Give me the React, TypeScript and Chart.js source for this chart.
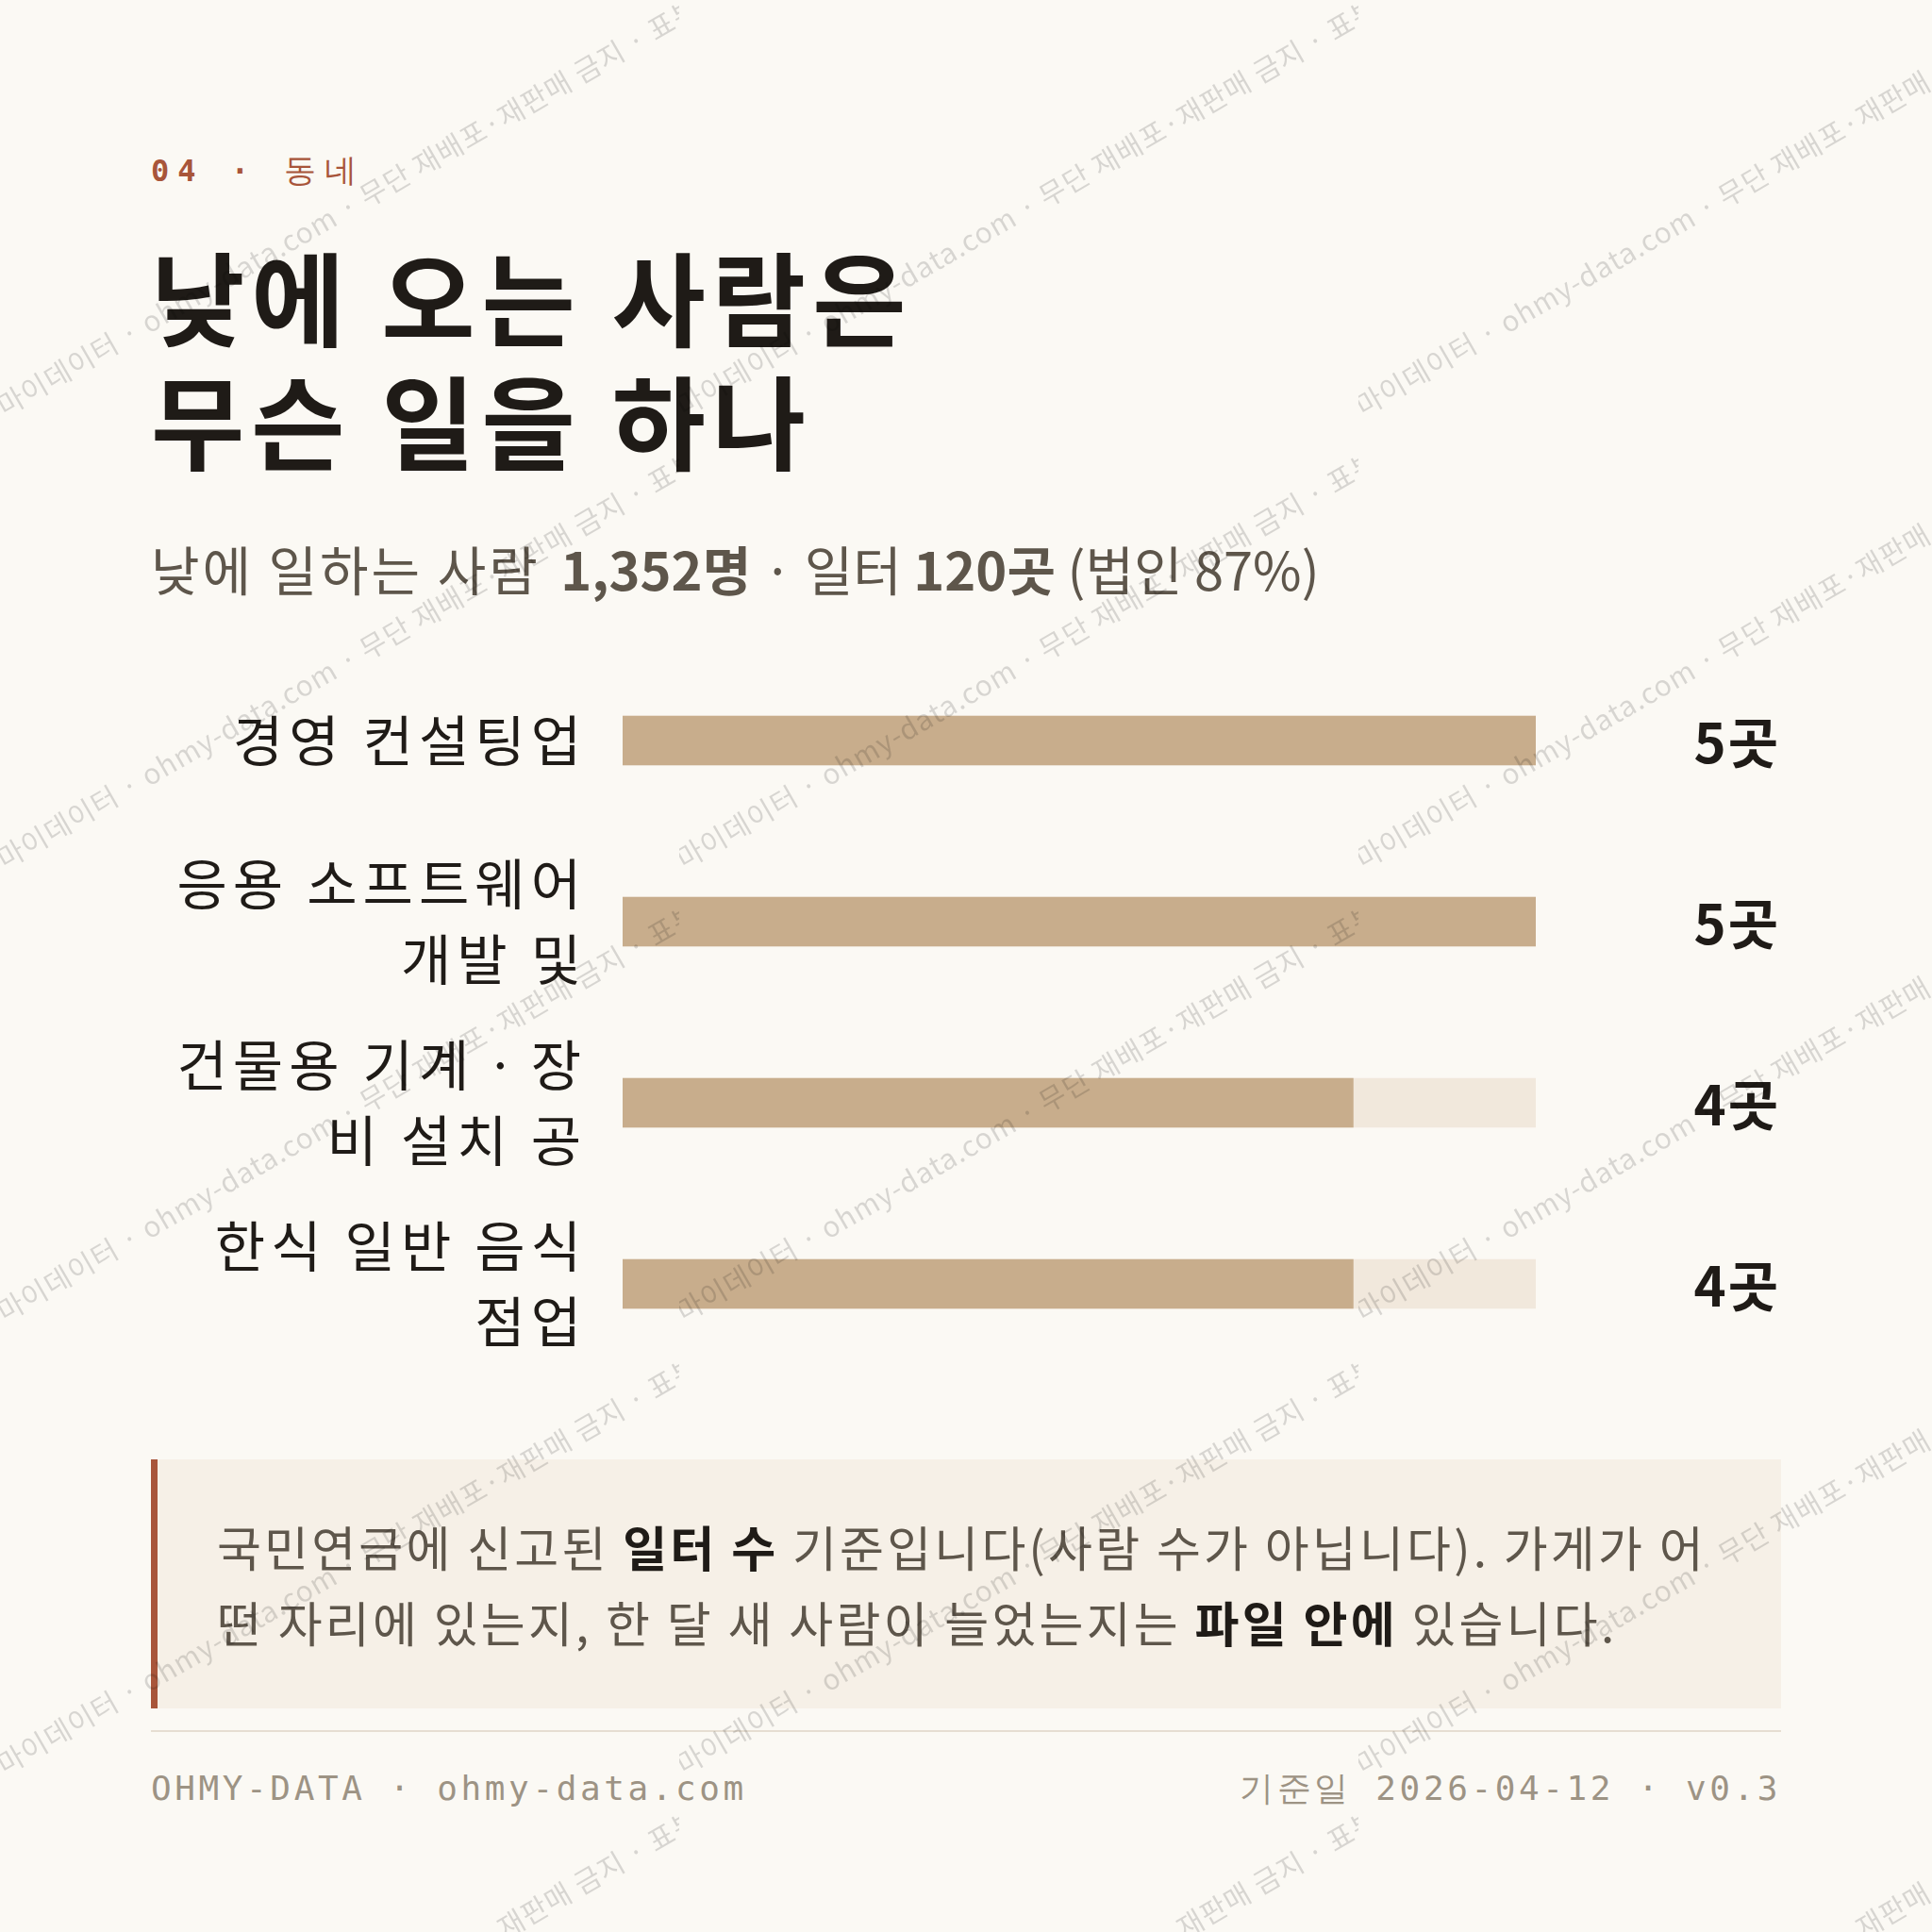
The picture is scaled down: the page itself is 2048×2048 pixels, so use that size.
import React, { useEffect, useRef } from "react";
import { Chart, registerables } from "chart.js";

Chart.register(...registerables);

// ---- data ----
const categoryLines: string[][] = [
  ["경영 컨설팅업"],
  ["응용 소프트웨어", "개발 및"],
  ["건물용 기계ㆍ장", "비 설치 공"],
  ["한식 일반 음식", "점업"],
];
const workplaceCounts: number[] = [5, 5, 4, 4];
const countUnit = "곳";
const axisMax = 5;

const kickerNum = "04 · ";
const kickerWord = "동네";
const titleLines = ["낮에 오는 사람은", "무슨 일을 하나"];
const footerLeft = "OHMY-DATA · ohmy-data.com";
const footerRight = "기준일 2026-04-12 · v0.3";
const watermarkText = "마이데이터 · ohmy-data.com · 무단 재배포·재판매 금지 · 표본 데이터";

// ---- styles ----
const BG = "#FBF9F4";
const RUST = "#A8553A";
const INK = "#1F1B17";
const MUTED = "#5E564B";
const BAR = "#C8AD8C";
const TRACK = "#F1E8DC";
const NOTE_BG = "#F6F0E7";
const FOOT = "#9D9384";
const KR = "'Noto Sans CJK KR', 'Noto Sans', sans-serif";
const MONO = "'DejaVu Sans Mono', monospace";

function BarChart() {
  const ref = useRef<HTMLCanvasElement | null>(null);
  useEffect(() => {
    if (!ref.current) return;
    const track = workplaceCounts.map(() => axisMax);
    const spacingPlugin = {
      id: "letterSpacing",
      beforeUpdate(chart: any) {
        chart.ctx.letterSpacing = "6px";
      },
      beforeDraw(chart: any) {
        chart.ctx.letterSpacing = "6px";
      },
    };
    const valuePlugin = {
      id: "valueLabels",
      afterDatasetsDraw(chart: any) {
        const ctx = chart.ctx;
        const meta = chart.getDatasetMeta(0);
        ctx.save();
        ctx.letterSpacing = "2px";
        ctx.font = `700 58px ${KR}`;
        ctx.fillStyle = INK;
        ctx.textAlign = "right";
        ctx.textBaseline = "middle";
        meta.data.forEach((bar: any, i: number) => {
          ctx.fillText(`${workplaceCounts[i]}${countUnit}`, chart.width - 1, bar.y + 2);
        });
        ctx.restore();
      },
    };
    const chart = new Chart(ref.current, {
      type: "bar",
      data: {
        labels: categoryLines as any,
        datasets: [
          {
            data: workplaceCounts,
            backgroundColor: BAR,
            barThickness: 52,
            grouped: false,
            order: 0,
            borderWidth: 0,
          } as any,
          {
            data: track,
            backgroundColor: TRACK,
            barThickness: 52,
            grouped: false,
            order: 1,
            borderWidth: 0,
          } as any,
        ],
      },
      options: {
        indexAxis: "y",
        responsive: false,
        animation: false,
        devicePixelRatio: 1,
        layout: { padding: { left: 0, right: 260, top: 0, bottom: 0 } },
        plugins: { legend: { display: false }, tooltip: { enabled: false } },
        scales: {
          x: { min: 0, max: axisMax, display: false },
          y: {
            grid: { display: false },
            border: { display: false },
            ticks: {
              padding: 30,
              color: INK,
              font: { family: KR, size: 58, lineHeight: 1.38 },
            },
            afterFit: (s: any) => {
              s.width = 500;
              s.paddingTop = 0;
              s.paddingBottom = 0;
            },
          },
        },
      },
      plugins: [spacingPlugin, valuePlugin],
    });
    return () => chart.destroy();
  }, []);
  return (
    <canvas
      ref={ref}
      width={1728}
      height={768}
      style={{ position: "absolute", left: 160, top: 689, width: 1728, height: 768 }}
    />
  );
}

function Watermark() {
  const tiles: React.ReactNode[] = [];
  for (let r = 0; r < 5; r++) {
    for (let c = 0; c < 3; c++) {
      tiles.push(
        <div
          key={`${r}-${c}`}
          style={{
            position: "absolute",
            left: c * 720,
            top: r * 480,
            width: 720,
            height: 480,
            overflow: "hidden",
          }}
        >
          <span
            style={{
              position: "absolute",
              left: 6,
              top: 414,
              lineHeight: "30px",
              fontSize: 30,
              letterSpacing: 1,
              whiteSpace: "nowrap",
              color: "rgba(0,0,0,0.14)",
              transform: "rotate(-30deg)",
              transformOrigin: "0 100%",
              fontFamily: KR,
            }}
          >
            {watermarkText}
          </span>
        </div>
      );
    }
  }
  return (
    <div style={{ position: "absolute", inset: 0, pointerEvents: "none", zIndex: 10 }}>{tiles}</div>
  );
}

export default function App() {
  return (
    <div
      style={{
        position: "absolute",
        left: 0,
        top: 0,
        width: 2048,
        height: 2048,
        background: BG,
        overflow: "hidden",
        fontFamily: KR,
      }}
    >
      <div
        style={{
          position: "absolute",
          left: 160,
          top: 160,
          fontFamily: MONO,
          fontSize: 32,
          lineHeight: "40px",
          letterSpacing: 9,
          color: RUST,
          whiteSpace: "nowrap",
        }}
      >
        <span style={{ fontWeight: 700 }}>{kickerNum}</span>
        <span style={{ fontWeight: 400, fontSize: 34 }}>{kickerWord}</span>
      </div>
      <div
        style={{
          position: "absolute",
          left: 160,
          top: 247,
          fontSize: 108,
          fontWeight: 700,
          lineHeight: "131px",
          letterSpacing: 7,
          color: INK,
          whiteSpace: "nowrap",
        }}
      >
        {titleLines[0]}
        <br />
        {titleLines[1]}
      </div>
      <div
        style={{
          position: "absolute",
          left: 160,
          top: 568,
          fontSize: 56,
          lineHeight: "67px",
          color: MUTED,
          whiteSpace: "nowrap",
        }}
      >
        <span style={{ letterSpacing: 3 }}>낮에 일하는 사람 </span>
        <b style={{ marginLeft: 6 }}>1,352명</b> · 일터 <b>120곳</b> (법인 87%)
      </div>

      <BarChart />

      <div
        style={{
          position: "absolute",
          left: 160,
          top: 1547,
          width: 1728,
          height: 264,
          boxSizing: "border-box",
          background: NOTE_BG,
          borderLeft: `7px solid ${RUST}`,
          paddingLeft: 63,
          display: "flex",
          flexDirection: "column",
          justifyContent: "center",
          fontSize: 51,
          lineHeight: "80px",
          letterSpacing: 3.2,
          color: MUTED,
          whiteSpace: "nowrap",
        }}
      >
        <div>
          국민연금에 신고된 <b style={{ color: INK }}>일터 수</b> 기준입니다(사람 수가 아닙니다). 가게가 어
        </div>
        <div>
          떤 자리에 있는지, 한 달 새 사람이 늘었는지는 <b style={{ color: INK }}>파일 안에</b> 있습니다.
        </div>
      </div>

      <div style={{ position: "absolute", left: 160, top: 1834, width: 1728, height: 2, background: "#E6DED2" }} />

      <div
        style={{
          position: "absolute",
          left: 160,
          top: 1874,
          fontFamily: MONO,
          fontSize: 36,
          lineHeight: "44px",
          letterSpacing: 3.6,
          color: FOOT,
          whiteSpace: "nowrap",
        }}
      >
        {footerLeft}
      </div>
      <div
        style={{
          position: "absolute",
          right: 160,
          top: 1874,
          fontFamily: MONO,
          fontSize: 36,
          lineHeight: "44px",
          letterSpacing: 3.6,
          color: FOOT,
          whiteSpace: "nowrap",
          textAlign: "right",
        }}
      >
        {footerRight}
      </div>

      <Watermark />
    </div>
  );
}
